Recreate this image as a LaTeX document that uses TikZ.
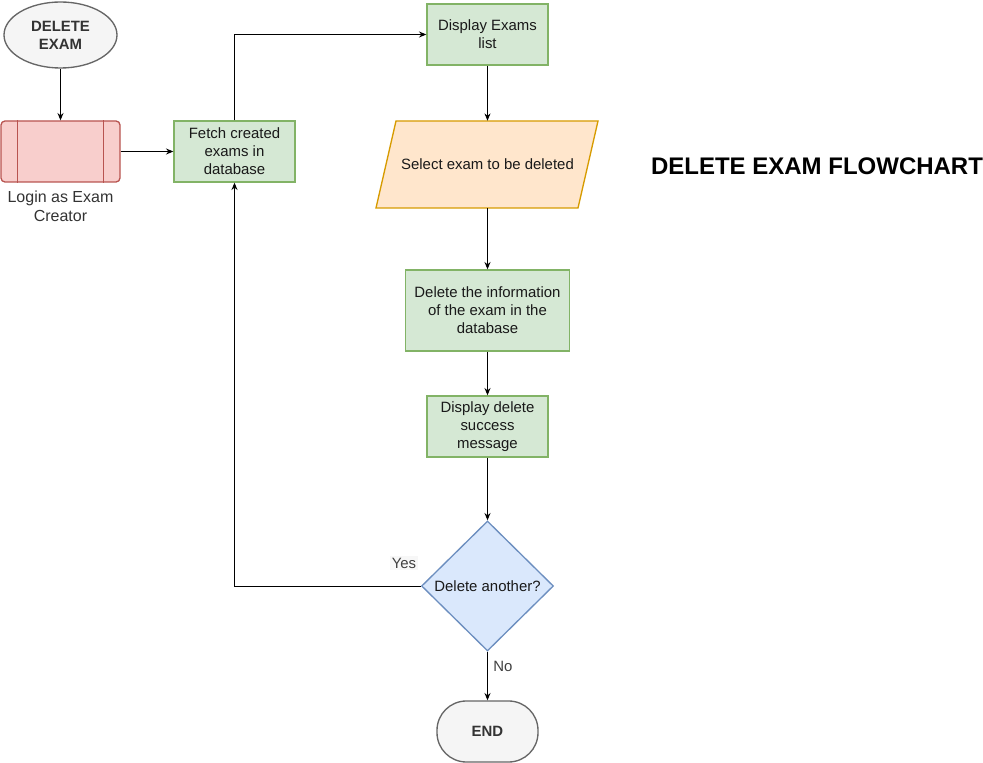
\documentclass[tikz,border=0pt]{standalone}
\usepackage{fontspec}
\setmainfont{Liberation Sans}
\usepackage{tikz}
\usepackage{xcolor}
\usetikzlibrary{shapes.geometric,arrows.meta}

\definecolor{grisfond}{HTML}{F5F5F5}
\definecolor{grisbord}{HTML}{666666}
\definecolor{rougefond}{HTML}{F8CECC}
\definecolor{rougebord}{HTML}{B85450}
\definecolor{vertfond}{HTML}{D5E8D4}
\definecolor{vertbord}{HTML}{82B366}
\definecolor{orangefond}{HTML}{FFE6CC}
\definecolor{orangebord}{HTML}{D79B00}
\definecolor{bleufond}{HTML}{DAE8FC}
\definecolor{bleubord}{HTML}{6C8EBF}

\begin{document}
\begin{tikzpicture}[x=0.75pt,y=-0.75pt,
   txt/.style={font=\fontsize{11.2}{13.5}\selectfont, text=black!90, align=center},
   boite/.style={txt, rectangle, draw=vertbord, fill=vertfond, line width=1pt,
                 minimum width=90.75pt, minimum height=45.75pt, inner sep=1pt},
   fleche/.style={-{Stealth[length=5.5pt,width=4.5pt]}, line width=0.75pt}]

\useasboundingbox (0,0) rectangle (983,763);

%debut
\node (debut) [ellipse, draw=grisbord, fill=grisfond, line width=1pt, inner sep=0pt,
   minimum width=84.75pt, minimum height=49.5pt, align=center, text=black!80,
   font=\bfseries\fontsize{11.2}{13.5}\selectfont] at (60.5,35) {DELETE\\EXAM};

%login
\node (login) [rectangle, rounded corners=3pt, draw=rougebord, fill=rougefond,
   line width=1pt, minimum width=89.25pt, minimum height=45.75pt] at (60.5,151.5) {};
\foreach \c/\d in {west/12.75pt, east/-12.75pt}
   {\draw [rougebord, line width=1pt] ([xshift=\d]login.north \c) -- ([xshift=\d]login.south \c);
   }
\path (60.5,206.5) node (loginlbl) [align=center, text=black!80,
   font=\fontsize{12}{14.25}\selectfont] {Login as Exam\\Creator};

%boites
\node (fetch) [boite] at (234.5,151.5) {Fetch created\\exams in\\database};
\node (liste) [boite] at (487.5,34.5) {Display Exams\\list};

%parallelogramme
\draw [orangebord, fill=orangefond, line width=1pt] (376,208) -- (396,121) -- (598,121) -- (578,208) -- cycle;
\node (select) [txt, minimum width=166.5pt, minimum height=65.25pt, inner sep=0pt]
   at (487.5,164.5) {Select exam to be deleted};

\node (supinfo) [boite, minimum width=123pt, minimum height=60.75pt] at (487.5,310.5)
   {Delete the information\\of the exam in the\\database};
\node (succes) [boite] at (487.5,426.5) {Display delete\\success\\message};

%question
\node (question) [txt, diamond, draw=bleubord, fill=bleufond, line width=1pt, inner sep=0pt,
   minimum width=99pt, minimum height=97.5pt] at (487.5,586) {Delete another?};

%fin
\node (fin) [rectangle, rounded corners=22pt, draw=grisbord, fill=grisfond, line width=1pt,
   minimum width=75.75pt, minimum height=45.75pt, text=black!80,
   font=\bfseries\fontsize{11.2}{13.5}\selectfont] at (487.5,731.5) {END};

%titre
\path (817,166) node (titre) [font=\bfseries\fontsize{18}{21}\selectfont] {DELETE EXAM FLOWCHART};

%fleches
\draw [fleche] (debut) -- (login);
\draw [fleche] (login) -- (fetch);
\draw [fleche] (fetch.north) |- (liste.west);
\draw [fleche] (liste) -- (select);
\draw [fleche] (select) -- (supinfo);
\draw [fleche] (supinfo) -- (succes);
\draw [fleche] (succes) -- (question);
\draw [fleche] (question.west) -| (fetch.south);
\draw [fleche] (question) -- (fin);

%oui non
\path (404,563) node (oui) [fill=black!3, inner sep=1.5pt, text=black!75,
   font=\fontsize{11.2}{13.5}\selectfont] {Yes};
\path (503,666) node (non) [text=black!75, font=\fontsize{11.2}{13.5}\selectfont] {No};

\end{tikzpicture}
\end{document}
